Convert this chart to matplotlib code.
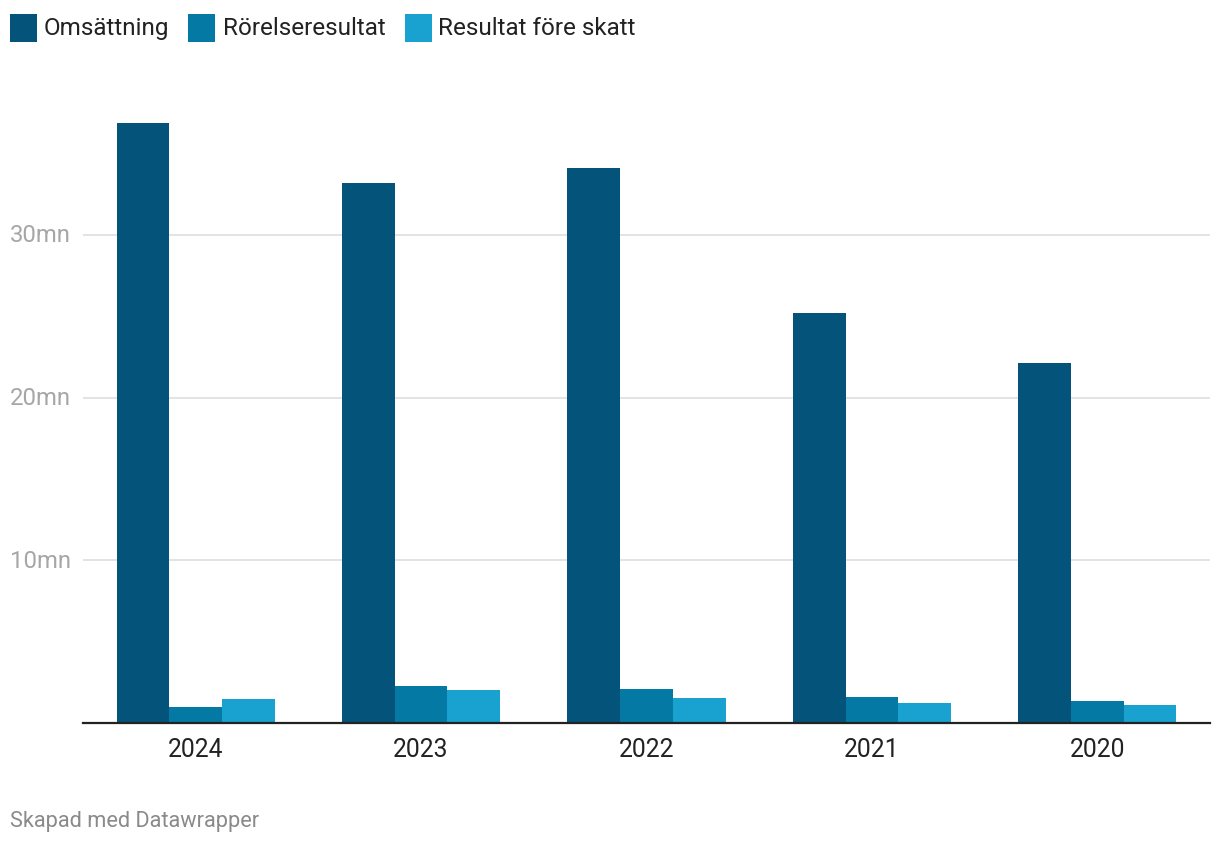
import matplotlib
matplotlib.use("Agg")
import matplotlib.pyplot as plt
from matplotlib.patches import Rectangle
import numpy as np

plt.rcParams['font.family'] = ['Roboto', 'DejaVu Sans']

years = ["2024", "2023", "2022", "2021", "2020"]
series_names = ["Omsättning", "Rörelseresultat", "Resultat före skatt"]
omsattning = [36.9, 33.2, 34.1, 25.2, 22.15]
rorelseresultat = [0.98, 2.22, 2.09, 1.54, 1.35]
resultat_fore_skatt = [1.42, 1.97, 1.48, 1.17, 1.05]
colors = ["#03537a", "#0479a4", "#19a2cf"]
yticks = [10, 20, 30]
ytick_labels = ["10mn", "20mn", "30mn"]
footer = "Skapad med Datawrapper"

W, H = 1220, 844
fig = plt.figure(figsize=(W / 100, H / 100), dpi=100)
ax_left, ax_right = 83, 1210
ax_bottom_px, ax_top_px = 722.5, 105
ymax = 38
ax = fig.add_axes([ax_left / W, 1 - ax_bottom_px / H,
                   (ax_right - ax_left) / W, (ax_bottom_px - ax_top_px) / H])

x = np.arange(len(years))
bw = 0.234
for i, (vals, c) in enumerate(zip([omsattning, rorelseresultat, resultat_fore_skatt], colors)):
    ax.bar(x + (i - 1) * bw, vals, width=bw, color=c, linewidth=0, zorder=3)

ax.set_xlim(-0.5, len(years) - 0.5)
ax.set_ylim(0, ymax)
for s in ["top", "right", "left"]:
    ax.spines[s].set_visible(False)
ax.spines["bottom"].set_color("#222222")
ax.spines["bottom"].set_linewidth(1.6)
ax.spines["bottom"].set_zorder(4)

ax.set_yticks(yticks)
ax.set_yticklabels([])
ax.tick_params(axis="y", length=0)
ax.grid(axis="y", color="#e0e0e0", linewidth=1.3, zorder=0)

ax.set_xticks(x)
ax.set_xticklabels(years, fontsize=17.8, color="#222222")
ax.tick_params(axis="x", length=0, pad=11)

# y tick labels left aligned at figure left
for v, lab in zip(yticks, ytick_labels):
    ypx = ax_bottom_px - v * (ax_bottom_px - ax_top_px) / ymax
    fig.text(10 / W, 1 - (ypx + 1) / H, lab, fontsize=17.2, color="#a6a6a6",
             ha="left", va="center")

# legend
sq = [(10, 37), (188, 215), (405, 432)]
txt_x = [44, 223, 438]
for (x0, x1), tx, name, c in zip(sq, txt_x, series_names, colors):
    fig.patches.append(Rectangle((x0 / W, 1 - 42 / H), (x1 - x0) / W, 28 / H,
                                 transform=fig.transFigure, color=c, linewidth=0))
    fig.text(tx / W, 1 - 28.5 / H, name, fontsize=17.5, color="#222222",
             ha="left", va="center")

fig.text(10 / W, 1 - 821 / H, footer, fontsize=15.7, color="#8a8a8a",
         ha="left", va="center")

fig.savefig("out.png", dpi=100)
